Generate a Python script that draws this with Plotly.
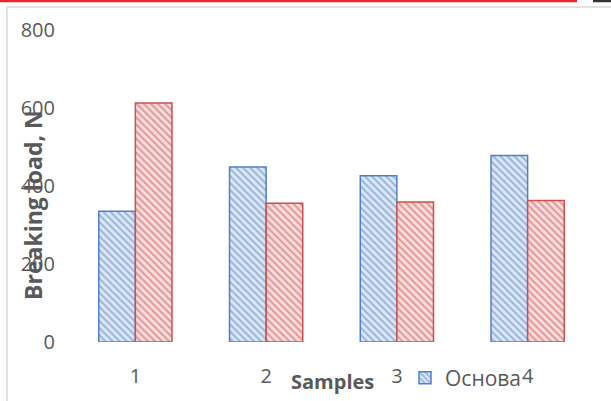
import plotly.graph_objects as go

categories = ["1", "2", "3", "4"]
osnova = [335, 449, 426, 478]
second = [613, 356, 359, 363]
y_ticks = [0, 200, 400, 600, 800]

W, H = 611, 401
L, R, T, B = 70, 18, 30, 59
PW, PH = W - L - R, H - T - B

def px(x):
    return (x - L) / PW

def py(y):
    return (H - B - y) / PH

blue = "#4F81C7"
red = "#CF4F4F"
grey_text = "#595959"

fig = go.Figure()
fig.add_trace(go.Bar(
    x=categories, y=osnova, name="Основа",
    marker=dict(color="#DCE6F4", line=dict(color=blue, width=1.5),
                pattern=dict(shape="\\", fgcolor=blue, bgcolor="#DCE6F4", size=5, solidity=0.4)),
    showlegend=True,
))
fig.add_trace(go.Bar(
    x=categories, y=second, name="",
    marker=dict(color="#F7DCDC", line=dict(color=red, width=1.5),
                pattern=dict(shape="\\", fgcolor=red, bgcolor="#F7DCDC", size=5, solidity=0.4)),
    showlegend=False,
))

shapes = [
    dict(type="line", xref="paper", yref="paper", x0=px(0), x1=px(577), y0=py(1), y1=py(1),
         line=dict(color="#E8262C", width=2.5)),
    dict(type="line", xref="paper", yref="paper", x0=px(593), x1=px(611), y0=py(1), y1=py(1),
         line=dict(color="#333333", width=2.5)),
    dict(type="line", xref="paper", yref="paper", x0=px(7), x1=px(611), y0=py(7), y1=py(7),
         line=dict(color="#D9D9D9", width=1.5)),
    dict(type="line", xref="paper", yref="paper", x0=px(7), x1=px(7), y0=py(7), y1=py(401),
         line=dict(color="#D9D9D9", width=1.5)),
]

annotations = [
    dict(text="<b>Breaking load, N</b>", xref="paper", yref="paper", x=px(33), y=py(205),
         textangle=-90, showarrow=False, font=dict(size=23, color=grey_text, family="Open Sans"),
         xanchor="center", yanchor="middle"),
    dict(text="<b>Samples</b>", xref="paper", yref="paper", x=px(332), y=py(381),
         showarrow=False, font=dict(size=20, color=grey_text, family="Open Sans"),
         xanchor="center", yanchor="middle"),
]

fig.update_layout(
    width=W, height=H,
    margin=dict(l=L, r=R, t=T, b=B, autoexpand=False),
    paper_bgcolor="white", plot_bgcolor="white",
    barmode="group", bargap=0.44, bargroupgap=0,
    font=dict(family="Open Sans", color=grey_text),
    shapes=shapes,
    annotations=annotations,
    legend=dict(orientation="h", xref="container", yref="container",
                x=405 / W, y=1 - 378 / H, xanchor="left", yanchor="middle",
                font=dict(size=21, color=grey_text), bgcolor="rgba(0,0,0,0)",
                itemwidth=30, traceorder="normal"),
    xaxis=dict(showline=False, showgrid=False, zeroline=False, ticks="", automargin=False,
               tickfont=dict(size=20, color=grey_text), ticklabelstandoff=20),
    yaxis=dict(range=[0, 800], tickvals=y_ticks, showgrid=False, showline=False, zeroline=False,
               automargin=False, ticks="", tickfont=dict(size=20, color=grey_text),
               ticklabelstandoff=14),
)

fig.write_html(
    "out.html",
    config={"displayModeBar": False},
    post_script="document.body.style.margin='0';document.body.style.overflow='hidden';",
)
